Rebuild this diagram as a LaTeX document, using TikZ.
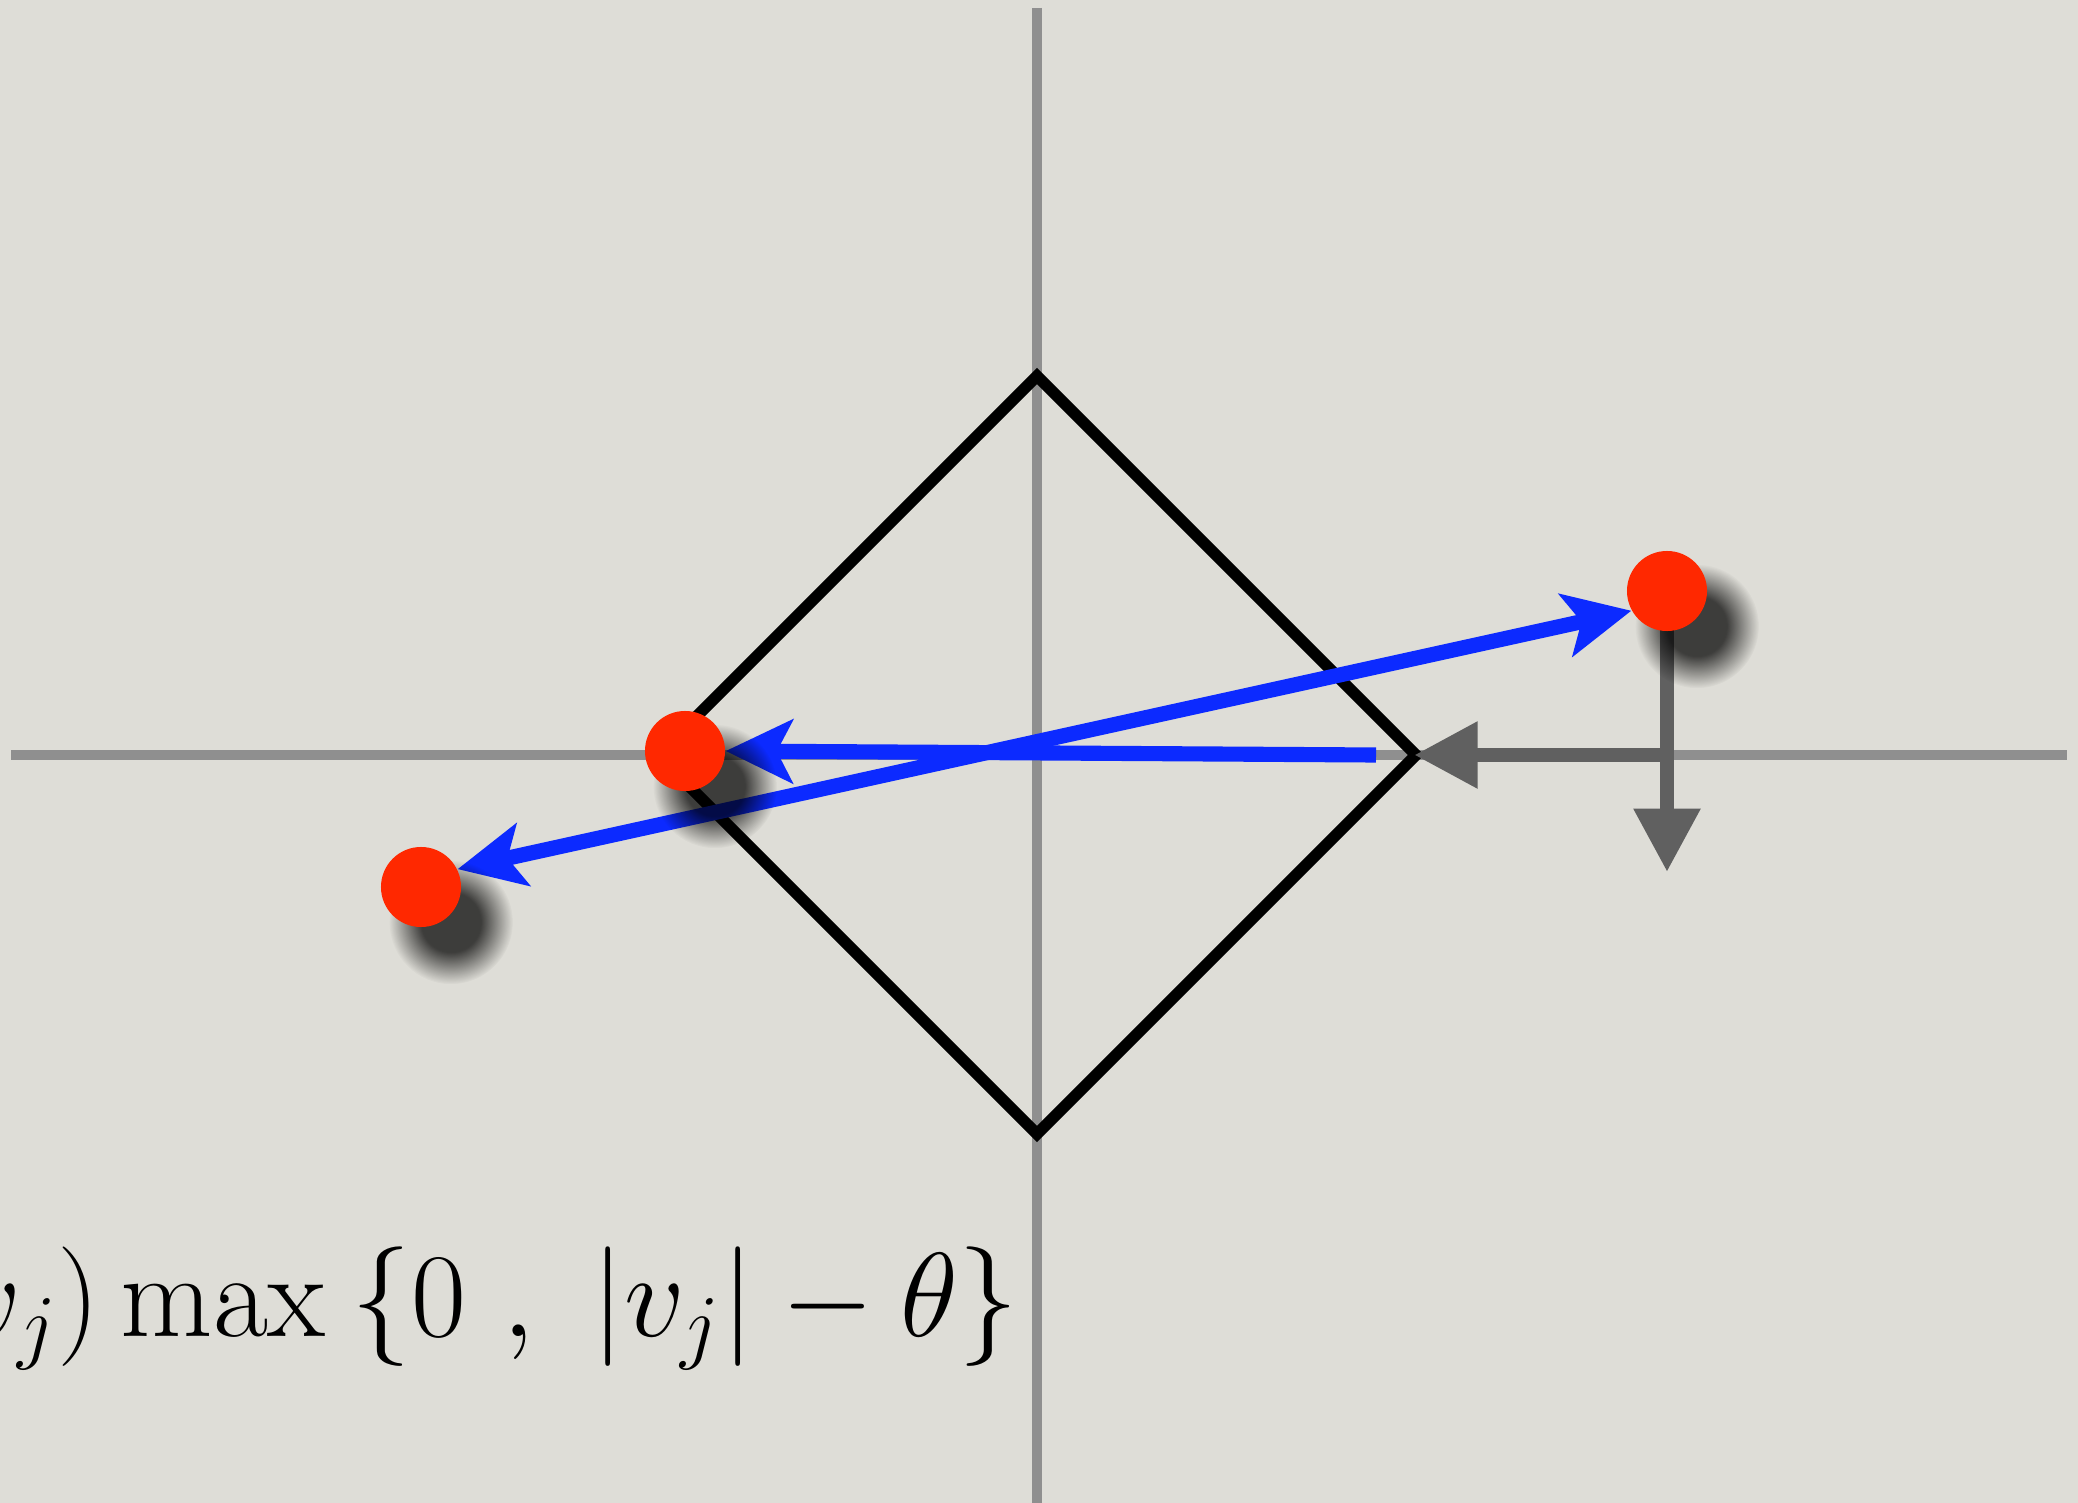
\RequirePackage{fix-cm}
\documentclass[tikz,border=0pt]{standalone}
\usetikzlibrary{arrows.meta,fadings}

\definecolor{paper}{RGB}{222,221,215}
\definecolor{axisgray}{RGB}{143,143,143}
\definecolor{projgray}{RGB}{96,96,96}
\definecolor{stepblue}{RGB}{12,42,255}
\definecolor{dotred}{RGB}{255,40,0}

\pgfdeclareradialshading{shadowshade}{\pgfpointorigin}{color(0bp)=(white); color(12bp)=(white); color(25bp)=(black); color(50bp)=(black)}
\pgfdeclarefading{softdot}{\pgfuseshading{shadowshade}}

\pgfdeclarelayer{paperlayer}
\pgfdeclarelayer{linelayer}
\pgfdeclarelayer{shadelayer}
\pgfsetlayers{paperlayer,linelayer,shadelayer,main}

\begin{document}
\begin{tikzpicture}[x=0.01cm,y=-0.01cm,
	dot/.style={circle,fill=dotred,minimum size=0.8cm,inner sep=0pt},
	shade/.style={black,opacity=0.72,path fading=softdot},
	proj/.style={projgray,line width=4pt,-{Triangle[length=18pt,width=18pt]}},
	move/.style={stepblue,line width=4.3pt,-{Stealth[length=19pt,width=18pt,inset=4.5pt]}}]
	
	\def\cx{1037}
	\def\cy{755}
	\def\r{379}
	\useasboundingbox (0,0) rectangle (2078,1503);
	\clip (0,0) rectangle (2078,1503);
	
	% points
	\node[dot] (rdot) at (1667,591) {};
	\node[dot] (mdot) at (685,751) {};
	\node[dot] (ldot) at (421,887) {};
	\coordinate (foot) at (1667,\cy);
	\coordinate (start) at (1376,\cy);
	\coordinate (vtip) at (1667,872);
	\coordinate (corner) at (\cx+\r,\cy);
	
	\begin{pgfonlayer}{paperlayer}
		\fill[paper] (0,0) rectangle (2078,1503);
	\end{pgfonlayer}
	
	\begin{pgfonlayer}{linelayer}
		% axes
		\draw[axisgray,line width=2.85pt] (11,\cy)--(2067,\cy);
		\draw[axisgray,line width=2.85pt] (\cx,8)--(\cx,1503);
		% l1 ball
		\draw[line width=3.3pt] (\cx,\cy-\r)--(\cx+\r,\cy)--(\cx,\cy+\r)--(\cx-\r,\cy)--cycle;
		% projections
		\draw[proj] (rdot.center)--(vtip);
		\draw[proj] ([xshift=2pt]foot)--([xshift=-0.5pt]corner);
		% steps
		\draw[move] (start)--(mdot.east);
		\draw[move,{Stealth[length=19pt,width=18pt,inset=4.5pt]}-{Stealth[length=19pt,width=18pt,inset=4.5pt]}] (ldot.26)--(rdot.209);
	\end{pgfonlayer}
	
	\begin{pgfonlayer}{shadelayer}
		\foreach \p in {rdot,mdot,ldot}
			\fill[shade] ([xshift=8.5pt,yshift=-10pt]\p.center) circle (62);
	\end{pgfonlayer}
	
	\node[anchor=base east,inner sep=0pt,font=\fontsize{34}{40}\selectfont] (rule) at (1019,1336) {$v_j)\max\:\{0\ ,\ |v_j|-\theta\}$};
	
\end{tikzpicture}
\end{document}
